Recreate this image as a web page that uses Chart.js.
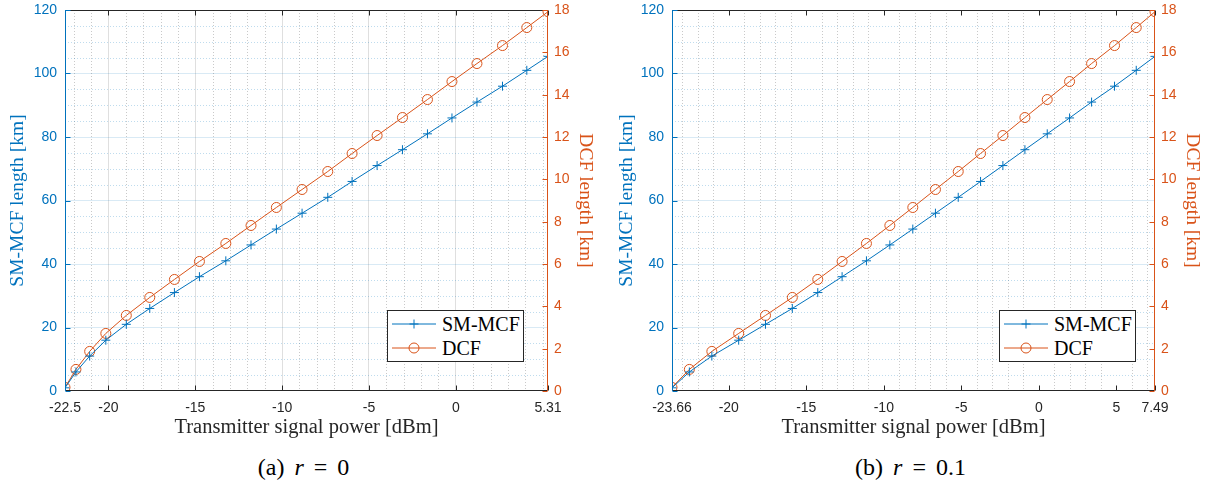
<!DOCTYPE html>
<html>
<head>
<meta charset="utf-8">
<script src="https://cdn.jsdelivr.net/npm/chart.js@4.4.1/dist/chart.umd.min.js"></script>
<style>
  html, body { margin: 0; padding: 0; background: #fff; }
  body { width: 1214px; height: 494px; position: relative; overflow: hidden; }
  .panel { position: absolute; top: 0; width: 607px; height: 450px; }
  .panel canvas { position: absolute; left: 0; top: 0; }
  .legend { position: absolute; background: #fff; border: 1px solid #262626; box-sizing: border-box;
            font-family: "Liberation Serif", serif; font-size: 20px; color: #000; }
  .legend .row { position: absolute; left: 0; height: 24px; display: flex; align-items: center; }
  .legend svg { display: block; margin-left: 4px; margin-right: 4px; }
  .caption { position: absolute; top: 454px; width: 607px; text-align: center;
             font-family: "Liberation Serif", serif; font-size: 24px; color: #000; word-spacing: 4px; }
  .caption i { font-style: italic; }
</style>
</head>
<body>
<div class="panel" id="panelA" style="left:0px"><canvas id="chartA" width="607" height="450"></canvas></div>
<div class="panel" id="panelB" style="left:607px"><canvas id="chartB" width="607" height="450"></canvas></div>

<div class="legend" style="left:387px; top:310px; width:137px; height:52px;">
  <div class="row" style="top:1px">
    <svg width="46" height="14"><line x1="0" y1="7" x2="44" y2="7" stroke="#0072BD" stroke-width="1"/><line x1="22" y1="2.5" x2="22" y2="11.5" stroke="#0072BD"/><line x1="17.5" y1="7" x2="26.5" y2="7" stroke="#0072BD"/></svg>
    <span>SM-MCF</span>
  </div>
  <div class="row" style="top:25px">
    <svg width="46" height="14"><line x1="0" y1="7" x2="44" y2="7" stroke="#D95319" stroke-width="1"/><circle cx="22" cy="7" r="5" fill="none" stroke="#D95319"/></svg>
    <span>DCF</span>
  </div>
</div>
<div class="legend" style="left:999px; top:310px; width:137px; height:52px;">
  <div class="row" style="top:1px">
    <svg width="46" height="14"><line x1="0" y1="7" x2="44" y2="7" stroke="#0072BD" stroke-width="1"/><line x1="22" y1="2.5" x2="22" y2="11.5" stroke="#0072BD"/><line x1="17.5" y1="7" x2="26.5" y2="7" stroke="#0072BD"/></svg>
    <span>SM-MCF</span>
  </div>
  <div class="row" style="top:25px">
    <svg width="46" height="14"><line x1="0" y1="7" x2="44" y2="7" stroke="#D95319" stroke-width="1"/><circle cx="22" cy="7" r="5" fill="none" stroke="#D95319"/></svg>
    <span>DCF</span>
  </div>
</div>

<div class="caption" style="left:0px">(a) <i>r</i> = 0</div>
<div class="caption" style="left:607px">(b) <i>r</i> = 0.1</div>

<script>
// ---------------- data ----------------
const powerA = [-22.5, -21.87, -21.08, -20.15, -18.97, -17.62, -16.20, -14.76, -13.24, -11.79, -10.33,
                -8.85, -7.37, -5.97, -4.53, -3.07, -1.63, -0.22, 1.22, 2.69, 4.09, 5.31];
const powerB = [-23.66, -22.54, -21.09, -19.36, -17.63, -15.90, -14.26, -12.69, -11.12, -9.61, -8.13,
                -6.67, -5.20, -3.76, -2.32, -0.90, 0.54, 1.98, 3.40, 4.88, 6.28, 7.49];
const smmcfLen = [1, 6, 11, 16, 21, 26, 31, 36, 41, 46, 51, 56, 61, 66, 71, 76, 81, 86, 91, 96, 101, 105.4];
const dcfLen = [0.17, 1.02, 1.87, 2.72, 3.57, 4.42, 5.27, 6.12, 6.97, 7.82, 8.67, 9.52, 10.37, 11.22,
                12.07, 12.92, 13.77, 14.62, 15.47, 16.32, 17.17, 17.92];
const xTicksA = [-22.5, -20, -15, -10, -5, 0, 5.31];
const xTicksB = [-23.66, -20, -15, -10, -5, 0, 5, 7.49];
const leftTicks = [0, 20, 40, 60, 80, 100, 120];
const rightTicks = [0, 2, 4, 6, 8, 10, 12, 14, 16, 18];
const legendLabels = ['SM-MCF', 'DCF'];
const xTitle = 'Transmitter signal power [dBm]';
const leftTitle = 'SM-MCF length [km]';
const rightTitle = 'DCF length [km]';

// ---------------- style ----------------
const BLUE = '#0072BD';
const ORANGE = '#D95319';
const AXIS = '#262626';
const SANS = '"Liberation Sans", Arial, sans-serif';
const SERIF = '"Liberation Serif", "Times New Roman", serif';

const matlabAxes = {
  id: 'matlabAxes',
  beforeDatasetsDraw(chart, args, opts) {
    const { ctx, chartArea: a, scales } = chart;
    const x = scales.x, y = scales.y;
    ctx.save();
    ctx.lineWidth = 1;
    ctx.setLineDash([1, 2]);
    ctx.strokeStyle = 'rgba(38,38,38,0.25)';
    const xMajor = opts.xTicks;
    for (let v = Math.ceil(x.min); v <= Math.floor(x.max); v++) {
      if (xMajor.some(t => Math.abs(t - v) < 1e-9)) continue;
      const px = Math.round(x.getPixelForValue(v)) + 0.5;
      ctx.beginPath(); ctx.moveTo(px, a.top); ctx.lineTo(px, a.bottom); ctx.stroke();
    }
    ctx.strokeStyle = 'rgba(0,114,189,0.25)';
    for (let v = y.min; v <= y.max; v += 5) {
      if (v % 20 === 0) continue;
      const py = Math.round(y.getPixelForValue(v)) + 0.5;
      ctx.beginPath(); ctx.moveTo(a.left, py); ctx.lineTo(a.right, py); ctx.stroke();
    }
    ctx.restore();
  },
  afterDatasetsDraw(chart, args, opts) {
    const { ctx, chartArea: a, scales } = chart;
    const x = scales.x, y = scales.y, y1 = scales.y1;
    const L = Math.round(a.left) + 0.5, R = Math.round(a.right) - 0.5;
    const T = Math.round(a.top) + 0.5, B = Math.round(a.bottom) - 0.5;
    const tl = 5;
    ctx.save();
    ctx.setLineDash([]);
    ctx.lineWidth = 1;
    ctx.strokeStyle = AXIS;
    ctx.beginPath(); ctx.moveTo(L, T); ctx.lineTo(R, T); ctx.moveTo(L, B); ctx.lineTo(R, B); ctx.stroke();
    ctx.beginPath();
    for (const v of opts.xTicks) {
      const px = Math.round(x.getPixelForValue(v)) + 0.5;
      ctx.moveTo(px, B); ctx.lineTo(px, B - tl);
      ctx.moveTo(px, T); ctx.lineTo(px, T + tl);
    }
    ctx.stroke();
    ctx.strokeStyle = BLUE;
    ctx.beginPath(); ctx.moveTo(L, T - 0.5); ctx.lineTo(L, B + 0.5);
    for (const v of leftTicks) {
      const py = Math.round(y.getPixelForValue(v)) + 0.5;
      ctx.moveTo(L, py); ctx.lineTo(L + tl, py);
    }
    ctx.stroke();
    ctx.strokeStyle = ORANGE;
    ctx.beginPath(); ctx.moveTo(R, T - 0.5); ctx.lineTo(R, B + 0.5);
    for (const v of rightTicks) {
      const py = Math.round(y1.getPixelForValue(v)) + 0.5;
      ctx.moveTo(R, py); ctx.lineTo(R - tl, py);
    }
    ctx.stroke();
    ctx.restore();
  }
};

function zeroPad(s) { s.paddingTop = 0; s.paddingBottom = 0; s.paddingLeft = 0; s.paddingRight = 0; }

function makeChart(id, power, xTicks, majorVertical, yTitlePad) {
  const xMin = xTicks[0], xMax = xTicks[xTicks.length - 1];
  const interior = xTicks.slice(1, -1);
  return new Chart(document.getElementById(id), {
    type: 'line',
    data: {
      datasets: [
        {
          label: legendLabels[0],
          data: power.map((p, i) => ({ x: p, y: smmcfLen[i] })),
          yAxisID: 'y',
          borderColor: BLUE, backgroundColor: BLUE, borderWidth: 1,
          pointStyle: 'cross', pointRadius: 4.5, pointBorderWidth: 1, pointBorderColor: BLUE,
          tension: 0
        },
        {
          label: legendLabels[1],
          data: power.map((p, i) => ({ x: p, y: dcfLen[i] })),
          yAxisID: 'y1',
          borderColor: ORANGE, backgroundColor: 'rgba(0,0,0,0)', borderWidth: 1,
          pointStyle: 'circle', pointRadius: 5, pointBorderWidth: 1, pointBorderColor: ORANGE,
          pointBackgroundColor: 'rgba(0,0,0,0)',
          tension: 0
        }
      ]
    },
    options: {
      responsive: false, animation: false, events: [],
      layout: { padding: { top: 10, left: 0, right: 0, bottom: 0 } },
      plugins: {
        legend: { display: false }, tooltip: { enabled: false },
        matlabAxes: { xTicks: xTicks }
      },
      scales: {
        x: {
          type: 'linear', min: xMin, max: xMax,
          afterBuildTicks: s => { s.ticks = xTicks.map(v => ({ value: v })); },
          afterFit: s => { s.height = 59; zeroPad(s); },
          ticks: { callback: v => String(v), color: AXIS, font: { family: SANS, size: 14 }, padding: 9,
                   autoSkip: false, maxRotation: 0, minRotation: 0 },
          grid: {
            drawTicks: false, lineWidth: 1,
            color: c => (majorVertical && interior.includes(c.tick.value)) ? 'rgba(38,38,38,0.15)' : 'rgba(0,0,0,0)'
          },
          border: { display: false },
          title: { display: true, text: xTitle, color: AXIS, font: { family: SERIF, size: 20.5 },
                   padding: { top: 0, bottom: 10 } }
        },
        y: {
          position: 'left', min: 0, max: 120,
          afterBuildTicks: s => { s.ticks = leftTicks.map(v => ({ value: v })); },
          afterFit: s => { s.width = 65; zeroPad(s); },
          ticks: { color: BLUE, font: { family: SANS, size: 14 }, padding: 8 },
          grid: {
            drawTicks: false, lineWidth: 1,
            color: c => (c.tick.value > 0 && c.tick.value < 120) ? 'rgba(0,114,189,0.15)' : 'rgba(0,0,0,0)'
          },
          border: { display: false },
          title: { display: true, text: leftTitle, color: BLUE, font: { family: SERIF, size: 19.5 },
                   padding: { top: yTitlePad, bottom: 0 } }
        },
        y1: {
          position: 'right', min: 0, max: 18,
          afterBuildTicks: s => { s.ticks = rightTicks.map(v => ({ value: v })); },
          afterFit: s => { s.width = 59; zeroPad(s); },
          ticks: { color: ORANGE, font: { family: SANS, size: 14 }, padding: 6 },
          grid: { drawOnChartArea: false, drawTicks: false },
          border: { display: false },
          title: { display: true, text: rightTitle, color: ORANGE, font: { family: SERIF, size: 19.5 },
                   padding: { top: 10, bottom: 0 } }
        }
      }
    },
    plugins: [matlabAxes]
  });
}

makeChart('chartA', powerA, xTicksA, true, 6);
makeChart('chartB', powerB, xTicksB, false, 8);
</script>
</body>
</html>
